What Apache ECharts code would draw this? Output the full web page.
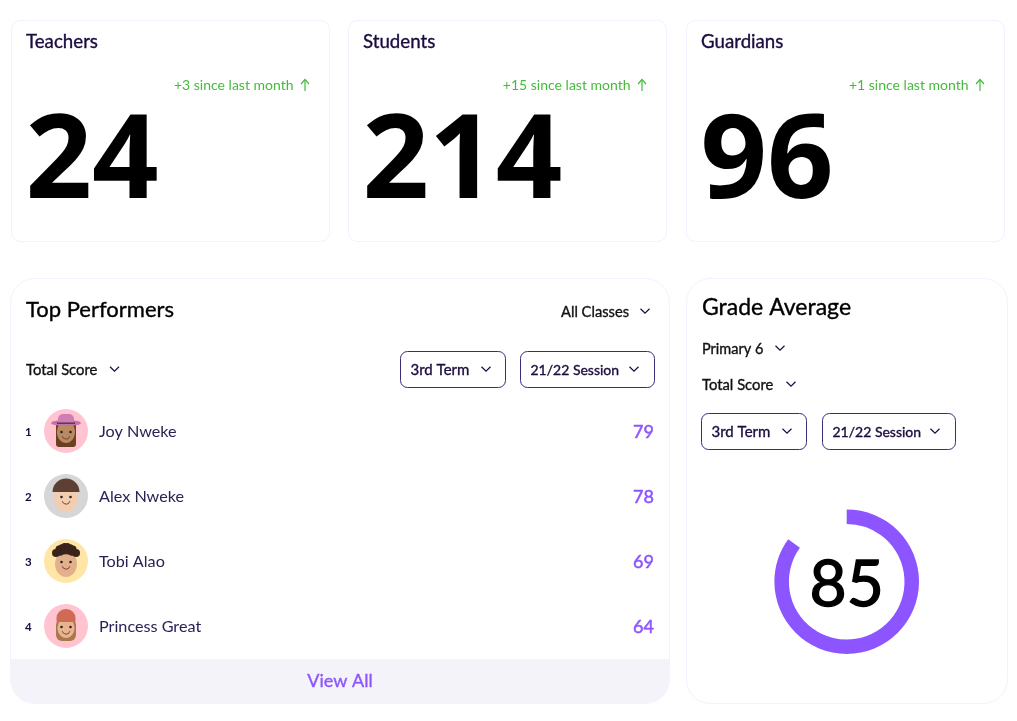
<!DOCTYPE html>
<html>
<head>
<meta charset="utf-8">
<title>Dashboard</title>
<style>
  html, body { margin: 0; padding: 0; background: #fff; }
  #chart { width: 1017px; height: 721px; }
</style>
<script src="https://cdn.jsdelivr.net/npm/echarts@6/dist/echarts.min.js"></script>
</head>
<body>
<div id="chart"></div>
<script>
const statTitles = ['Teachers', 'Students', 'Guardians'];
const statValues = ['24', '214', '96'];
const statDeltas = ['+3 since last month', '+15 since last month', '+1 since last month'];
const performerNames = ['Joy Nweke', 'Alex Nweke', 'Tobi Alao', 'Princess Great'];
const performerRanks = ['1', '2', '3', '4'];
const performerScores = [79, 78, 69, 64];
const avatarColors = ['#ffc4d0', '#d6d6d6', '#ffe6a6', '#ffc4d0'];
const gradeAverage = 85;
const gradeMax = 100;

const FONT = 'Lato';
const INK = '#1b0b3f';
const PURPLE = '#8c55ff';
const GREEN = '#45bb3c';
const BORDER = '#f3f1ff';

let elements = [];

function addCard(x, y, w, h, r) {
  elements.push({
    type: 'rect', silent: true, z: 0,
    shape: { x: x + 0.5, y: y + 0.5, width: w, height: h, r: r },
    style: { fill: '#fff', stroke: BORDER, lineWidth: 1 }
  });
}

function addText(text, x, y, size, color, weight, align, family) {
  // Lato has no medium cut, so a hairline stroke stands in for weight 500
  const medium = weight === 500;
  elements.push({
    type: 'text', silent: true, z: 5,
    style: {
      text: text, x: x, y: y, fill: color,
      stroke: medium ? color : null, lineWidth: medium ? 0.35 : 0,
      font: (medium ? 400 : (weight || 400)) + ' ' + size + 'px "' + (family || FONT) + '"',
      textAlign: align || 'left', textVerticalAlign: 'middle'
    }
  });
}

function addChevron(cx, cy, color) {
  elements.push({
    type: 'polyline', silent: true, z: 5,
    shape: { points: [[cx - 4.5, cy - 2.2], [cx, cy + 2.2], [cx + 4.5, cy - 2.2]] },
    style: { fill: 'none', stroke: color || INK, lineWidth: 1.2 }
  });
}

function addDropdown(x, y, w, h, label, chevronX, size) {
  elements.push({
    type: 'rect', silent: true, z: 4,
    shape: { x: x + 0.5, y: y + 0.5, width: w, height: h, r: 7 },
    style: { fill: '#fff', stroke: '#3d2a78', lineWidth: 1 }
  });
  addText(label, x + 10.5, y + h / 2 + 1, size, INK, 500);
  addChevron(chevronX, y + h / 2, INK);
}

// stat cards
const statX = [11, 348, 686];
statTitles.forEach((title, i) => {
  const x = statX[i];
  addCard(x, 20, 318, 221, 9);
  addText(title, x + 15, 42, 18.7, INK, 500);
  addText(statDeltas[i], x + 282.5, 85.5, 14, GREEN, 400, 'right');
  elements.push({
    type: 'polyline', silent: true, z: 5,
    shape: { points: [[x + 290, 84], [x + 294, 79.5], [x + 298, 84]] },
    style: { fill: 'none', stroke: GREEN, lineWidth: 1.2 }
  });
  elements.push({
    type: 'line', silent: true, z: 5,
    shape: { x1: x + 294, y1: 80, x2: x + 294, y2: 91 },
    style: { stroke: GREEN, lineWidth: 1.2 }
  });
  addText(statValues[i], x + 14.5, 165, 116.5, '#000', 700, 'left', 'Open Sans');
});

// top performers card
addCard(10, 278, 659, 425, 24);
elements.push({
  type: 'rect', silent: true, z: 1,
  shape: { x: 11, y: 659, width: 658, height: 44, r: [0, 0, 24, 24] },
  style: { fill: '#f5f3fa' }
});
addText('View All', 340, 681, 18, PURPLE, 500, 'center');
addText('Top Performers', 26, 310, 22, '#000', 500);
addText('All Classes', 561, 312, 14.7, '#111', 500);
addChevron(645, 311, INK);
addText('Total Score', 26, 370, 14.8, '#111', 500);
addChevron(114.5, 369, INK);
addDropdown(400, 351, 105, 36, '3rd Term', 486, 15);
addDropdown(520, 351, 134, 36, '21/22 Session', 634, 14);

// grade average card
addCard(686, 278, 321, 425, 24);
addText('Grade Average', 702, 308, 23, '#000', 500);
addText('Primary 6', 702, 349, 14.5, '#111', 500);
addChevron(780, 348, INK);
addText('Total Score', 702, 385, 14.8, '#111', 500);
addChevron(791, 384, INK);
addDropdown(701, 413, 105, 36, '3rd Term', 787, 15);
addDropdown(822, 413, 133, 36, '21/22 Session', 935, 14);

// little memoji-like faces, one style per row
function renderAvatar(params, api) {
  const i = api.value(1);
  const p = api.coord([0, i]);
  const cx = p[0], cy = p[1] - 1;
  const skin = ['#b98a60', '#f3cdb0', '#e2b08c', '#e8b48f'][i];
  const hair = ['#6b3f24', '#5d4033', '#3a241a', '#a9774a'][i];
  const children = [
    { type: 'circle', shape: { cx: cx, cy: cy, r: 22 }, style: { fill: avatarColors[i] } }
  ];
  if (i === 0) {
    children.push({ type: 'rect', shape: { x: cx - 10, y: cy - 9, width: 20, height: 25, r: 3 }, style: { fill: hair } });
  }
  if (i === 3) {
    children.push({ type: 'rect', shape: { x: cx - 10, y: cy - 7, width: 20, height: 22, r: 6 }, style: { fill: hair } });
  }
  const faces = [[9, 11, 1], [12, 15, 1], [11, 13, 3], [8.5, 10, 2]];
  children.push({ type: 'ellipse', shape: { cx: cx, cy: cy + faces[i][2], rx: faces[i][0], ry: faces[i][1] }, style: { fill: skin } });
  if (i === 0) {
    children.push({ type: 'ellipse', shape: { cx: cx, cy: cy - 8, rx: 15, ry: 3 }, style: { fill: '#c56fa8' } });
    children.push({ type: 'rect', shape: { x: cx - 8, y: cy - 17, width: 16, height: 9, r: [5, 5, 0, 0] }, style: { fill: '#cf7db5' } });
    children.push({ type: 'rect', shape: { x: cx - 9, y: cy - 8.5, width: 18, height: 1.4 }, style: { fill: '#4a3a3a' } });
  }
  if (i === 1) {
    children.push({ type: 'sector', shape: { cx: cx, cy: cy - 4, r: 13.5, startAngle: Math.PI, endAngle: Math.PI * 2 }, style: { fill: hair } });
  }
  if (i === 2) {
    [-10, -6, -2, 2, 6, 10].forEach(dx => {
      children.push({ type: 'circle', shape: { cx: cx + dx, cy: cy - 11 + Math.abs(dx) * 0.3, r: 4 }, style: { fill: hair } });
      children.push({ type: 'circle', shape: { cx: cx + dx * 0.7, cy: cy - 15 + Math.abs(dx) * 0.3, r: 3.5 }, style: { fill: hair } });
    });
  }
  if (i === 3) {
    children.push({ type: 'rect', shape: { x: cx - 9.5, y: cy - 17, width: 19, height: 13, r: [9, 9, 1, 1] }, style: { fill: '#cf6a55' } });
  }
  [-4.5, 4.5].forEach(dx => {
    children.push({ type: 'circle', shape: { cx: cx + dx, cy: cy + 1, r: 1.3 }, style: { fill: '#2e2320' } });
  });
  children.push({
    type: 'arc',
    shape: { cx: cx, cy: cy + 4, r: 4, startAngle: 0.3, endAngle: Math.PI - 0.3 },
    style: { fill: 'none', stroke: '#7a3f30', lineWidth: 1 }
  });
  return { type: 'group', children: children };
}

const myChart = echarts.init(document.getElementById('chart'), null, { renderer: 'canvas' });

myChart.setOption({
  animation: false,
  backgroundColor: '#fff',
  graphic: { elements: elements },
  grid: { left: 66, top: 399.5, width: 588, height: 260 },
  xAxis: { type: 'value', min: 0, max: 1, show: false },
  yAxis: [
    {
      type: 'category', inverse: true, data: performerNames, position: 'left',
      axisLine: { show: false }, axisTick: { show: false },
      axisLabel: { inside: true, margin: 33, fontFamily: FONT, fontSize: 16.2, fontWeight: 400, color: '#2d2055' }
    },
    {
      type: 'category', inverse: true, data: performerRanks, position: 'left',
      axisLine: { show: false }, axisTick: { show: false },
      axisLabel: { align: 'left', margin: 41, fontFamily: FONT, fontSize: 11.5, fontWeight: 700, color: INK }
    },
    {
      type: 'category', inverse: true, data: performerScores.map(String), position: 'right',
      axisLine: { show: false }, axisTick: { show: false },
      axisLabel: { inside: true, margin: 0, align: 'right', fontFamily: FONT, fontSize: 18, fontWeight: 400, color: PURPLE, textBorderColor: PURPLE, textBorderWidth: 0.5 }
    }
  ],
  series: [
    {
      type: 'custom', name: 'avatars', silent: true, z: 6,
      coordinateSystem: 'cartesian2d',
      renderItem: renderAvatar,
      data: performerNames.map((name, i) => [0, i]),
      encode: { x: 0, y: 1 }, clip: false
    },
    {
      type: 'pie', name: 'Grade Average', silent: true, z: 6,
      center: [846.7, 581.7], radius: [57.8, 72.3],
      startAngle: 90, clockwise: true,
      label: { show: false }, labelLine: { show: false },
      data: [
        {
          value: gradeAverage, itemStyle: { color: PURPLE },
          label: {
            show: true, position: 'center', formatter: String(gradeAverage),
            offset: [0, 4],
            fontFamily: FONT, fontSize: 64, fontWeight: 400, color: '#000',
            textBorderColor: '#000', textBorderWidth: 1.4
          }
        },
        { value: gradeMax - gradeAverage, itemStyle: { color: 'transparent' } }
      ]
    }
  ]
});
</script>
</body>
</html>
